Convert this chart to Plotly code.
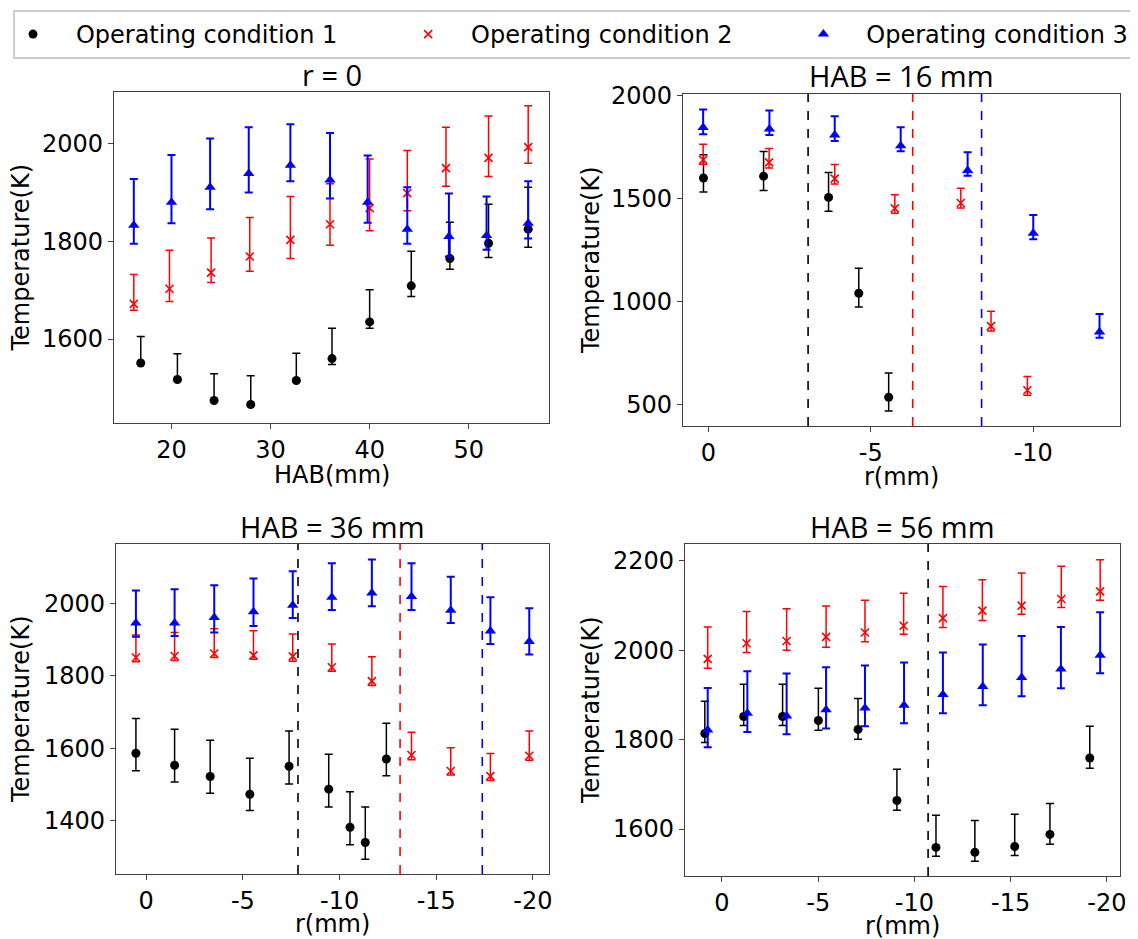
import plotly.graph_objects as go

# ---------------- DATA ----------------
names = ["Operating condition 1", "Operating condition 2", "Operating condition 3"]

# Panel A: r = 0, x = HAB (mm)
a1_x = [16.9, 20.6, 24.3, 28.0, 32.6, 36.2, 40.0, 44.2, 48.1, 52.0, 56.0]
a1_T = [1551, 1517, 1474, 1466, 1515, 1560, 1635, 1709, 1765, 1796, 1825]
a1_hi = [1605, 1570, 1529, 1525, 1571, 1622, 1701, 1780, 1839, 1876, 1911]
a1_lo = [1549, 1515, 1472, 1464, 1513, 1548, 1622, 1687, 1743, 1767, 1788]

a2_x = [16.2, 19.8, 24.0, 27.9, 32.0, 36.0, 40.0, 43.8, 47.7, 52.0, 56.0]
a2_T = [1672, 1703, 1736, 1769, 1803, 1835, 1868, 1899, 1950, 1971, 1993]
a2_hi = [1732, 1782, 1807, 1849, 1892, 1918, 1969, 1986, 2034, 2057, 2078]
a2_lo = [1659, 1677, 1716, 1739, 1765, 1792, 1822, 1863, 1913, 1933, 1960]

a3_x = [16.2, 20.0, 23.9, 27.8, 32.0, 36.0, 39.8, 43.8, 48.0, 51.8, 56.0]
a3_T = [1833, 1880, 1911, 1939, 1956, 1926, 1880, 1825, 1810, 1812, 1837]
a3_hi = [1928, 1977, 2011, 2034, 2040, 2022, 1976, 1911, 1898, 1892, 1923]
a3_lo = [1795, 1837, 1866, 1900, 1923, 1888, 1838, 1795, 1769, 1783, 1806]

# Panel B: HAB = 16 mm, x = r (mm)
b1_x = [0.15, -1.70, -3.70, -4.63, -5.55]
b1_T = [1599, 1608, 1505, 1041, 537]
b1_hi = [1712, 1728, 1626, 1162, 655]
b1_lo = [1531, 1539, 1438, 974, 471]

b2_x = [0.16, -1.87, -3.89, -5.74, -7.77, -8.70, -9.82]
b2_T = [1687, 1675, 1596, 1452, 1478, 882, 571]
b2_hi = [1763, 1742, 1665, 1518, 1549, 954, 638]
b2_lo = [1666, 1647, 1570, 1428, 1454, 858, 547]

b3_x = [0.16, -1.88, -3.89, -5.92, -7.98, -10.0, -12.04]
b3_T = [1844, 1836, 1808, 1755, 1636, 1331, 853]
b3_hi = [1931, 1926, 1898, 1845, 1724, 1420, 940]
b3_lo = [1811, 1808, 1778, 1729, 1610, 1302, 825]

b_bounds = [-3.07, -6.29, -8.41]

# Panel C: HAB = 36 mm
c1_x = [0.53, -1.47, -3.31, -5.36, -7.39, -9.44, -10.54, -11.33, -12.42]
c1_T = [1586, 1553, 1522, 1473, 1550, 1487, 1382, 1340, 1570]
c1_hi = [1682, 1652, 1622, 1572, 1647, 1583, 1480, 1438, 1669]
c1_lo = [1538, 1507, 1476, 1428, 1501, 1438, 1334, 1294, 1524]

c2_x = [0.53, -1.47, -3.52, -5.55, -7.58, -9.60, -11.67, -13.72, -15.75, -17.80, -19.81]
c2_T = [1850, 1854, 1861, 1856, 1853, 1823, 1785, 1581, 1537, 1523, 1579]
c2_hi = [1912, 1919, 1929, 1924, 1915, 1887, 1852, 1644, 1601, 1585, 1647]
c2_lo = [1838, 1842, 1850, 1845, 1840, 1812, 1773, 1568, 1526, 1511, 1567]

c3_x = [0.53, -1.47, -3.52, -5.55, -7.58, -9.60, -11.67, -13.72, -15.75, -17.80, -19.81]
c3_T = [1945, 1945, 1960, 1976, 1994, 2016, 2028, 2018, 1980, 1923, 1894]
c3_hi = [2035, 2038, 2049, 2068, 2088, 2110, 2120, 2110, 2073, 2016, 1986]
c3_lo = [1907, 1909, 1919, 1937, 1959, 1981, 1991, 1981, 1945, 1887, 1858]

c_bounds = [-7.85, -13.13, -17.38]

# Panel D: HAB = 56 mm
d1_x = [0.89, -1.13, -3.15, -5.01, -7.07, -9.09, -11.12, -13.14, -15.21, -17.04, -19.11]
d1_T = [1814, 1852, 1852, 1843, 1823, 1664, 1559, 1548, 1561, 1588, 1759]
d1_hi = [1886, 1924, 1924, 1915, 1892, 1734, 1631, 1619, 1633, 1657, 1830]
d1_lo = [1794, 1832, 1832, 1821, 1801, 1642, 1539, 1528, 1541, 1566, 1736]

d2_x = [0.74, -1.28, -3.36, -5.41, -7.43, -9.44, -11.48, -13.53, -15.57, -17.63, -19.65]
d2_T = [1981, 2016, 2021, 2030, 2040, 2055, 2072, 2089, 2100, 2115, 2132]
d2_hi = [2052, 2087, 2093, 2099, 2112, 2128, 2143, 2158, 2173, 2188, 2203]
d2_lo = [1960, 1995, 2000, 2007, 2019, 2036, 2051, 2067, 2081, 2096, 2112]

d3_x = [0.74, -1.32, -3.36, -5.41, -7.43, -9.46, -11.48, -13.55, -15.57, -17.61, -19.65]
d3_T = [1822, 1859, 1853, 1867, 1871, 1877, 1901, 1919, 1939, 1958, 1989]
d3_hi = [1916, 1953, 1948, 1962, 1966, 1973, 1995, 2013, 2032, 2052, 2085]
d3_lo = [1783, 1817, 1812, 1825, 1830, 1837, 1859, 1877, 1897, 1915, 1949]

d_bounds = [-10.71]

titles = ["r = 0", "HAB = 16 mm", "HAB = 36 mm", "HAB = 56 mm"]
xlabels = ["HAB(mm)", "r(mm)", "r(mm)", "r(mm)"]
ylabel = "Temperature(K)"

# ---------------- STYLE ----------------
OFF = 8                      # page body margin of the browser
W, H = 1138 - OFF, 939 - OFF
colors = ["black", "red", "blue"]
symbols = ["circle", "x-thin", "triangle-up"]
msizes = [9, 8, 10]
ethick = [1.5, 1.5, 2]
FONT = "DejaVu Sans"
TFONT = "Open Sans"
NB = "\u00a0"
THIN = "\u2009"

# axes boxes in screen pixels (left, right, top, bottom)
boxes = [(114, 549, 92, 423), (683, 1120, 94, 426), (116, 549, 544, 874), (685, 1120, 544, 876)]
xranges = [[14.2, 58.1], [0.78, -12.67], [1.56, -20.83], [1.92, -20.68]]
yranges = [[1428, 2106], [398, 2006], [1253, 2163], [1495, 2238]]
xticks = [[20, 30, 40, 50], [0, -5, -10], [0, -5, -10, -15, -20], [0, -5, -10, -15, -20]]
yticks = [[1600, 1800, 2000], [500, 1000, 1500, 2000], [1400, 1600, 1800, 2000], [1600, 1800, 2000, 2200]]
xlabel_gap = [52, 51, 50, 50]

panels = [
    [(a1_x, a1_T, a1_hi, a1_lo), (a2_x, a2_T, a2_hi, a2_lo), (a3_x, a3_T, a3_hi, a3_lo)],
    [(b1_x, b1_T, b1_hi, b1_lo), (b2_x, b2_T, b2_hi, b2_lo), (b3_x, b3_T, b3_hi, b3_lo)],
    [(c1_x, c1_T, c1_hi, c1_lo), (c2_x, c2_T, c2_hi, c2_lo), (c3_x, c3_T, c3_hi, c3_lo)],
    [(d1_x, d1_T, d1_hi, d1_lo), (d2_x, d2_T, d2_hi, d2_lo), (d3_x, d3_T, d3_hi, d3_lo)],
]
bounds = [[], b_bounds, c_bounds, d_bounds]


def px(xp):
    return (xp - OFF) / W


def py(yp):
    return 1 - (yp - OFF) / H


legend_names = [NB * 3 + names[0] + NB * 8 + THIN,
                NB * 3 + names[1] + NB * 8 + THIN,
                NB * 3 + names[2]]

fig = go.Figure()
for p, series in enumerate(panels):
    sfx = "" if p == 0 else str(p + 1)
    for k, (xs, ts, his, los) in enumerate(series):
        up = [h - t for h, t in zip(his, ts)]
        dn = [t - l for t, l in zip(ts, los)]
        if symbols[k] == "x-thin":
            mk = dict(symbol="x-thin", size=msizes[k], color=colors[k], line=dict(color=colors[k], width=1.6))
        else:
            mk = dict(symbol=symbols[k], size=msizes[k], color=colors[k], line=dict(width=0))
        fig.add_trace(go.Scatter(
            x=xs, y=ts, mode="markers", name=legend_names[k], legendgroup=names[k],
            showlegend=(p == 0), marker=mk,
            error_y=dict(type="data", symmetric=False, array=up, arrayminus=dn,
                         color=colors[k], thickness=ethick[k], width=4),
            xaxis="x" + sfx, yaxis="y" + sfx,
        ))

layout = dict(width=W, height=H, margin=dict(l=0, r=0, t=0, b=0, autoexpand=False), autosize=False,
              paper_bgcolor="white", plot_bgcolor="white",
              font=dict(family=FONT, size=24, color="black"))
annotations = []
shapes = []
for p in range(4):
    l, r, t, b = boxes[p]
    sfx = "" if p == 0 else str(p + 1)
    axcommon = dict(showgrid=False, zeroline=False, showline=True, mirror=True, automargin=False,
                    linecolor="#404040", linewidth=1.3, ticks="outside", ticklen=5, tickwidth=1.2,
                    tickcolor="#404040", tickfont=dict(family=FONT, size=24, color="black"))
    layout["xaxis" + sfx] = dict(
        domain=[px(l), px(r)], anchor="y" + sfx, range=xranges[p],
        tickvals=xticks[p], ticktext=[str(v) for v in xticks[p]], **axcommon)
    layout["yaxis" + sfx] = dict(
        domain=[py(b), py(t)], anchor="x" + sfx, range=yranges[p],
        tickvals=yticks[p], ticktext=[str(v) for v in yticks[p]], **axcommon)
    cx = px((l + r) / 2)
    annotations.append(dict(text=titles[p], x=cx, y=py(t - 18), xref="paper", yref="paper",
                            xanchor="center", yanchor="middle", showarrow=False,
                            font=dict(family=TFONT, size=29, color="black")))
    annotations.append(dict(text=xlabels[p], x=cx, y=py(b + xlabel_gap[p]), xref="paper", yref="paper",
                            xanchor="center", yanchor="middle", showarrow=False,
                            font=dict(family=FONT, size=24, color="black")))
    ycx = 21 if p in (0, 2) else 591
    annotations.append(dict(text=ylabel, x=px(ycx), y=py((t + b) / 2), xref="paper", yref="paper",
                            xanchor="center", yanchor="middle", showarrow=False, textangle=-90,
                            font=dict(family=FONT, size=24, color="black")))
    for j, xv in enumerate(bounds[p]):
        shapes.append(dict(type="line", xref="x" + sfx, yref=("y" + sfx) + " domain",
                           x0=xv, x1=xv, y0=0, y1=1,
                           line=dict(color=colors[j], width=1.6, dash="dash")))

layout["annotations"] = annotations
layout["shapes"] = shapes
layout["legend"] = dict(orientation="h", x=px(13), y=py(10), xanchor="left", yanchor="top",
                        bordercolor="#cccccc", borderwidth=2, bgcolor="white",
                        font=dict(family=FONT, size=24, color="black"))
fig.update_layout(**layout)
fig.write_html("out.html")
